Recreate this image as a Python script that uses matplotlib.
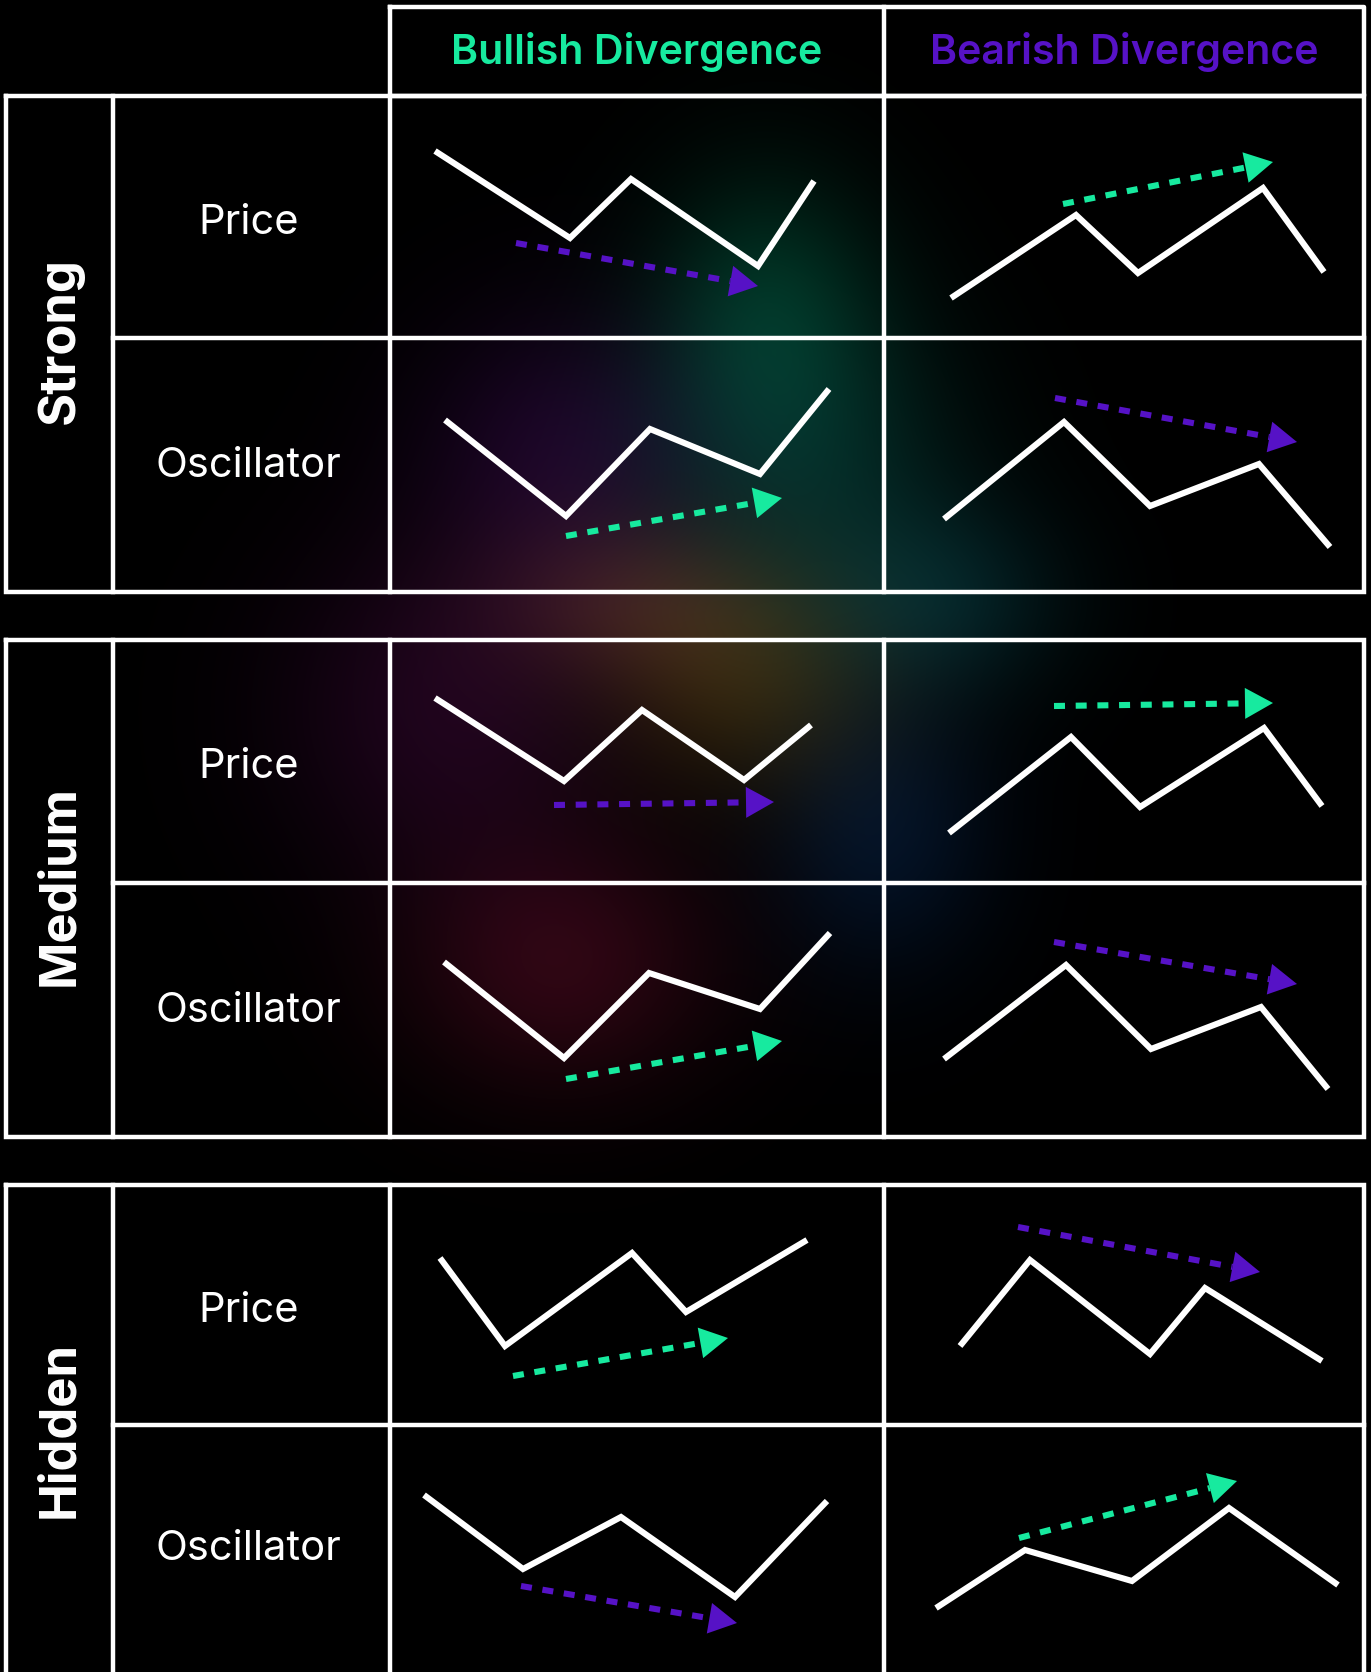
import numpy as np
import matplotlib.pyplot as plt

W, H = 1371, 1672
GREEN = '#17EA9F'
PURPLE = '#5612C6'
WHITE = 'white'

groups = ['Strong', 'Medium', 'Hidden']
row_labels = ['Price', 'Oscillator']
col_labels = ['Bullish Divergence', 'Bearish Divergence']
col_colors = [GREEN, PURPLE]

# zigzags: x from the left edge of the cell, y up from the bottom of the cell (px)
strong_bull_price_x = [45, 180, 241, 368, 424]
strong_bull_price_y = [187, 100, 159, 72, 157]
strong_bear_price_x = [67, 192, 254, 379, 440]
strong_bear_price_y = [40, 123, 65, 150, 66]
strong_bull_osc_x = [55, 176, 260, 370, 439]
strong_bull_osc_y = [172, 76, 163, 118, 203]
strong_bear_osc_x = [60, 180, 266, 375, 446]
strong_bear_osc_y = [73, 170, 86, 128, 45]

medium_bull_price_x = [45, 174, 252, 354, 421]
medium_bull_price_y = [185, 102, 173, 103, 158]
medium_bear_price_x = [65, 187, 256, 380, 438]
medium_bear_price_y = [50, 146, 76, 155, 77]
medium_bull_osc_x = [54, 174, 259, 370, 440]
medium_bull_osc_y = [175, 79, 164, 128, 204]
medium_bear_osc_x = [60, 182, 267, 377, 444]
medium_bear_osc_y = [78, 172, 88, 130, 48]

hidden_bull_price_x = [50, 115, 242, 296, 417]
hidden_bull_price_y = [167, 79, 172, 113, 185]
hidden_bear_price_x = [76, 146, 266, 321, 438]
hidden_bear_price_y = [79, 165, 71, 137, 64]
hidden_bull_osc_x = [34, 133, 231, 345, 437]
hidden_bull_osc_y = [177, 103, 155, 75, 171]
hidden_bear_osc_x = [52, 141, 248, 345, 454]
hidden_bear_osc_y = [64, 122, 91, 164, 87]

# divergence arrows: (start, tip)
strong_bull_price_arrow = [(126, 95), (368, 52)]
strong_bear_price_arrow = [(179, 134), (389, 176)]
strong_bull_osc_arrow = [(176, 56), (392, 94)]
strong_bear_osc_arrow = [(171, 194), (413, 150)]
medium_bull_price_arrow = [(164, 78), (384, 81)]
medium_bear_price_arrow = [(170, 177), (389, 180)]
medium_bull_osc_arrow = [(176, 58), (392, 96)]
medium_bear_osc_arrow = [(170, 195), (413, 153)]
hidden_bull_price_arrow = [(123, 49), (338, 87)]
hidden_bear_price_arrow = [(134, 198), (376, 153)]
hidden_bull_osc_arrow = [(131, 86), (347, 49)]
hidden_bear_osc_arrow = [(135, 134), (353, 191)]

cells = {
    (0, 0, 0): (strong_bull_price_x, strong_bull_price_y, strong_bull_price_arrow, PURPLE),
    (0, 0, 1): (strong_bear_price_x, strong_bear_price_y, strong_bear_price_arrow, GREEN),
    (0, 1, 0): (strong_bull_osc_x, strong_bull_osc_y, strong_bull_osc_arrow, GREEN),
    (0, 1, 1): (strong_bear_osc_x, strong_bear_osc_y, strong_bear_osc_arrow, PURPLE),
    (1, 0, 0): (medium_bull_price_x, medium_bull_price_y, medium_bull_price_arrow, PURPLE),
    (1, 0, 1): (medium_bear_price_x, medium_bear_price_y, medium_bear_price_arrow, GREEN),
    (1, 1, 0): (medium_bull_osc_x, medium_bull_osc_y, medium_bull_osc_arrow, GREEN),
    (1, 1, 1): (medium_bear_osc_x, medium_bear_osc_y, medium_bear_osc_arrow, PURPLE),
    (2, 0, 0): (hidden_bull_price_x, hidden_bull_price_y, hidden_bull_price_arrow, GREEN),
    (2, 0, 1): (hidden_bear_price_x, hidden_bear_price_y, hidden_bear_price_arrow, PURPLE),
    (2, 1, 0): (hidden_bull_osc_x, hidden_bull_osc_y, hidden_bull_osc_arrow, PURPLE),
    (2, 1, 1): (hidden_bear_osc_x, hidden_bear_osc_y, hidden_bear_osc_arrow, GREEN),
}

# table layout in px
col_x = [390, 884, 1364]
left_x, label_x = 6, 113
block_top = [96, 640, 1185]
block_div = [338, 883, 1425]
block_bot = [592, 1137, 1681]
header_top = 7

plt.rcParams['font.family'] = ['Inter', 'DejaVu Sans']

fig = plt.figure(figsize=(W / 100, H / 100), dpi=100, facecolor='black')
bg = fig.add_axes([0, 0, 1, 1])
bg.axis('off')

# soft colour glow behind the table
gx, gy = np.meshgrid(np.arange(0, W, 3), np.arange(0, H, 3))
img = np.zeros(gx.shape + (3,))
glows = [
    (765, 300, 80, 95, (0, 42, 28)),
    (800, 460, 110, 110, (3, 38, 34)),
    (560, 450, 100, 100, (26, 4, 36)),
    (630, 600, 100, 60, (38, 20, 13)),
    (450, 710, 120, 120, (30, 4, 28)),
    (745, 680, 95, 80, (42, 30, 6)),
    (880, 830, 80, 100, (3, 18, 38)),
    (935, 600, 90, 70, (3, 30, 34)),
    (560, 965, 110, 90, (45, 6, 18)),
]
for cx, cy, sx, sy, c in glows:
    g = np.exp(-((gx - cx) ** 2 / (2 * sx ** 2) + (gy - cy) ** 2 / (2 * sy ** 2)))
    img += g[..., None] * np.array(c) / 255
img = np.clip(img, 0, 1)
bg.imshow(img, extent=(0, W, H, 0), interpolation='bilinear', zorder=0)
bg.set_xlim(0, W)
bg.set_ylim(H, 0)

lw_border = 3.2
# header
bg.plot([col_x[0], col_x[2], col_x[2], col_x[0], col_x[0]],
        [header_top, header_top, block_top[0], block_top[0], header_top],
        color=WHITE, lw=lw_border, zorder=3)
bg.plot([col_x[1], col_x[1]], [header_top, block_top[0]], color=WHITE, lw=lw_border, zorder=3)
for j, lab in enumerate(col_labels):
    bg.text((col_x[j] + col_x[j + 1]) / 2, (header_top + block_top[0]) / 2 + 1, lab,
            color=col_colors[j], fontsize=29.6, fontweight='semibold',
            ha='center', va='center', zorder=4)

# blocks
label_dy = [6, 1]
for g, name in enumerate(groups):
    t, d, b = block_top[g], block_div[g], block_bot[g]
    bg.plot([left_x, col_x[2], col_x[2], left_x, left_x], [t, t, b, b, t],
            color=WHITE, lw=lw_border, zorder=3, solid_joinstyle='miter')
    for x in [label_x, col_x[0], col_x[1]]:
        bg.plot([x, x], [t, b], color=WHITE, lw=lw_border, zorder=3)
    bg.plot([label_x, col_x[2]], [d, d], color=WHITE, lw=lw_border, zorder=3)
    bg.text((left_x + label_x) / 2, (t + b) / 2 - 3, name, rotation=90, color=WHITE,
            fontsize=36.5, fontweight='bold', ha='center', va='center', zorder=4)
    for r, (rt, rb) in enumerate([(t, d), (d, min(b, H))]):
        bg.text((label_x + col_x[0]) / 2 - 3, (rt + rb) / 2 + label_dy[r], row_labels[r],
                color=WHITE, fontsize=30, ha='center', va='center', zorder=4)

# zigzags and divergence arrows, one small axes per cell
head_len, head_w = 28, 31
for (g, r, c), (xs, ys, arrow, acol) in cells.items():
    top = block_top[g] if r == 0 else block_div[g]
    bot = block_div[g] if r == 0 else min(block_bot[g], H)
    x0, x1 = col_x[c], col_x[c + 1]
    ax = fig.add_axes([x0 / W, 1 - bot / H, (x1 - x0) / W, (bot - top) / H])
    ax.set_xlim(0, x1 - x0)
    ax.set_ylim(0, bot - top)
    ax.axis('off')
    ax.plot(xs, ys, color=WHITE, lw=4.4, solid_joinstyle='miter', solid_capstyle='butt', zorder=3)
    (sx, sy), (tx, ty) = arrow
    u = np.array([tx - sx, ty - sy], dtype=float)
    u /= np.hypot(*u)
    n = np.array([-u[1], u[0]])
    base = np.array([tx, ty]) - head_len * u
    ax.plot([sx, base[0]], [sy, base[1]], color=acol, lw=4.4,
            linestyle=(0, (1.8, 1.75)), dash_capstyle='butt', zorder=3)
    tri = np.array([[tx, ty], base + n * head_w / 2, base - n * head_w / 2])
    ax.fill(tri[:, 0], tri[:, 1], color=acol, lw=0, zorder=4)

fig.savefig('out.png', dpi=100, facecolor='black')
